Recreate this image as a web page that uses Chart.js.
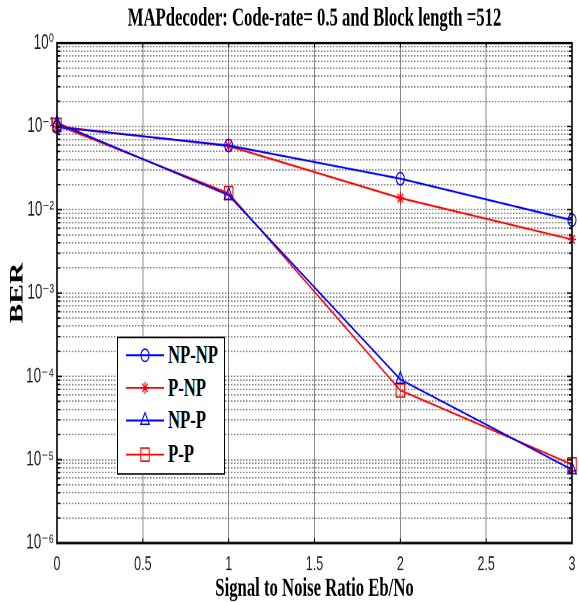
<!DOCTYPE html>
<html>
<head>
<meta charset="utf-8">
<script src="https://cdn.jsdelivr.net/npm/chart.js@4.4.1/dist/chart.umd.min.js"></script>
<style>
  html, body { margin: 0; background: #fff; }
  #page { width: 579px; height: 602px; overflow: hidden; }
  #wrap { position: relative; width: 579px; height: 388px; transform: scaleY(1.5515); transform-origin: 0 0; }
  #legend { position: absolute; left: 117px; top: 216.8px; width: 106px; height: 87px; background: #fff; border: 1.3px solid #000; }
  .item { position: absolute; left: 0; height: 20px; width: 106px; }
  .item svg { position: absolute; left: 6px; top: 3px; }
  .item span { position: absolute; left: 50px; top: 0; line-height: 20px; font: bold 16.7px 'Liberation Serif', serif; color: #000; }
</style>
</head>
<body>
<div id="page">
<div id="wrap">
  <canvas id="ber-chart"></canvas>
  <div id="legend"></div>
</div>
</div>
<script>
const ebno = [0, 1, 2, 3];
const berNpNp = [0.098, 0.059, 0.0236, 0.0075];
const berPNp = [0.1, 0.058, 0.0138, 0.0044];
const berNpP = [0.11, 0.0149, 9.2e-5, 7.6e-6];
const berPP = [0.104, 0.0158, 6.8e-5, 8.8e-6];
const seriesNames = ['NP-NP', 'P-NP', 'NP-P', 'P-P'];
const xTicks = [0, 0.5, 1, 1.5, 2, 2.5, 3];
const yDecades = [1e-6, 1e-5, 1e-4, 1e-3, 1e-2, 1e-1, 1];
const yTickLabels = ['10⁻⁶', '10⁻⁵', '10⁻⁴', '10⁻³', '10⁻²', '10⁻¹', '10⁰'];

const series = [berNpNp, berPNp, berNpP, berPP];
const colors = ['#0000ff', '#ff0000', '#0000ff', '#ff0000'];
const styles = ['circle', 'star', 'triangle', 'rect'];
const radii = [4, 4, 5, 6];

// frame round the axes plus small inward ticks, like matlab
const frame = {
    id: 'frame',
    afterDraw(chart) {
        const {ctx, chartArea: a, scales: {x, y}} = chart;
        ctx.save();
        ctx.strokeStyle = '#000';
        ctx.lineWidth = 1;
        ctx.beginPath();
        y.ticks.forEach(t => {
            const p = y.getPixelForValue(t.value);
            const len = t.major ? 5 : 3;
            ctx.moveTo(a.left, p); ctx.lineTo(a.left + len, p);
            ctx.moveTo(a.right, p); ctx.lineTo(a.right - len, p);
        });
        x.ticks.forEach(t => {
            const p = x.getPixelForValue(t.value);
            ctx.moveTo(p, a.bottom); ctx.lineTo(p, a.bottom - 3);
            ctx.moveTo(p, a.top); ctx.lineTo(p, a.top + 3);
        });
        ctx.stroke();
        ctx.lineWidth = 1.6;
        ctx.strokeRect(a.left, a.top, a.width, a.height);
        ctx.restore();
    }
};

const ctx = document.getElementById('ber-chart').getContext('2d');

new Chart(ctx, {
    type: 'line',
    data: {
        datasets: series.map((vals, i) => ({
            label: seriesNames[i],
            data: vals.map((v, j) => ({x: ebno[j], y: v})),
            borderColor: colors[i],
            borderWidth: 1.2,
            pointStyle: styles[i],
            pointRadius: radii[i],
            pointBorderColor: colors[i],
            pointBorderWidth: 1,
            pointBackgroundColor: 'rgba(0,0,0,0)',
            tension: 0,
            fill: false,
            clip: false
        }))
    },
    options: {
        responsive: true,
        maintainAspectRatio: false,
        devicePixelRatio: 2,
        animation: false,
        layout: { padding: { left: 0, right: 4.5, top: 0, bottom: 0 } },
        plugins: {
            legend: { display: false },
            tooltip: { enabled: false },
            title: {
                display: true,
                fullSize: false,
                text: 'MAPdecoder: Code-rate= 0.5 and Block length =512',
                color: '#000',
                font: { family: "'Liberation Serif', serif", size: 16.7, weight: 'bold' },
                padding: { top: 2, bottom: 5.7 }
            }
        },
        scales: {
            x: {
                type: 'linear',
                min: 0,
                max: 3,
                afterBuildTicks: s => { s.ticks = xTicks.map(v => ({value: v})); },
                afterFit: s => { s.height = 38; s.paddingRight = 0; },
                ticks: {
                    color: '#222',
                    padding: 6.5,
                    font: { family: "'Liberation Sans', Arial, sans-serif", size: 12.5 },
                    callback: v => String(v)
                },
                grid: { color: '#8a8a8a', lineWidth: 1, drawTicks: false },
                border: { display: false },
                title: {
                    display: true,
                    text: 'Signal to Noise Ratio Eb/No',
                    color: '#000',
                    font: { family: "'Liberation Serif', serif", size: 16.7, weight: 'bold', lineHeight: 1 },
                    padding: { top: 0, bottom: 0 }
                }
            },
            y: {
                type: 'logarithmic',
                min: 1e-6,
                max: 1,
                afterBuildTicks: s => {
                    const t = [];
                    yDecades.forEach((d, i) => {
                        t.push({value: d, major: true, label: yTickLabels[i]});
                        if (i < yDecades.length - 1) {
                            for (let m = 2; m <= 9; m++) t.push({value: m * d, major: false});
                        }
                    });
                    s.ticks = t;
                },
                afterFit: s => { s.width = 57; },
                ticks: {
                    autoSkip: false,
                    color: '#222',
                    padding: 3,
                    font: { family: "'Liberation Sans', 'DejaVu Sans', sans-serif", size: 13.5 },
                    callback: (v, i, ticks) => ticks[i].major ? ticks[i].label : ''
                },
                grid: { color: '#666', lineWidth: 0.7, drawTicks: false },
                border: { display: false, dash: [1.5, 1.5] },
                title: {
                    display: true,
                    text: 'BER',
                    color: '#000',
                    font: { family: "'Liberation Serif', serif", size: 19, weight: 'bold', lineHeight: 1.1 },
                    padding: { top: 7, bottom: 0 }
                }
            }
        }
    },
    plugins: [frame]
});

// legend box inside the axes, built from the same series info
const legend = document.getElementById('legend');
const rowCenters = [11, 32.3, 53.6, 74.9];
function marker(style, c) {
    const cx = 21, cy = 7;
    if (style === 'circle') return `<circle cx="${cx}" cy="${cy}" r="4" fill="none" stroke="${c}"/>`;
    if (style === 'star') return `<path d="M${cx} ${cy-4}V${cy+4}M${cx-4} ${cy}H${cx+4}M${cx-2.8} ${cy-2.8}L${cx+2.8} ${cy+2.8}M${cx-2.8} ${cy+2.8}L${cx+2.8} ${cy-2.8}" stroke="${c}"/>`;
    if (style === 'triangle') return `<polygon points="${cx},${cy-5} ${cx-4.33},${cy+2.5} ${cx+4.33},${cy+2.5}" fill="none" stroke="${c}"/>`;
    return `<rect x="${cx-4.2}" y="${cy-4.2}" width="8.4" height="8.4" fill="none" stroke="${c}"/>`;
}
seriesNames.forEach((name, i) => {
    const row = document.createElement('div');
    row.className = 'item';
    row.style.top = (rowCenters[i] - 10) + 'px';
    row.innerHTML = `<svg width="44" height="14"><line x1="2" y1="7" x2="40" y2="7" stroke="${colors[i]}" stroke-width="1.2"/>${marker(styles[i], colors[i])}</svg><span>${name}</span>`;
    legend.appendChild(row);
});
</script>
</body>
</html>
